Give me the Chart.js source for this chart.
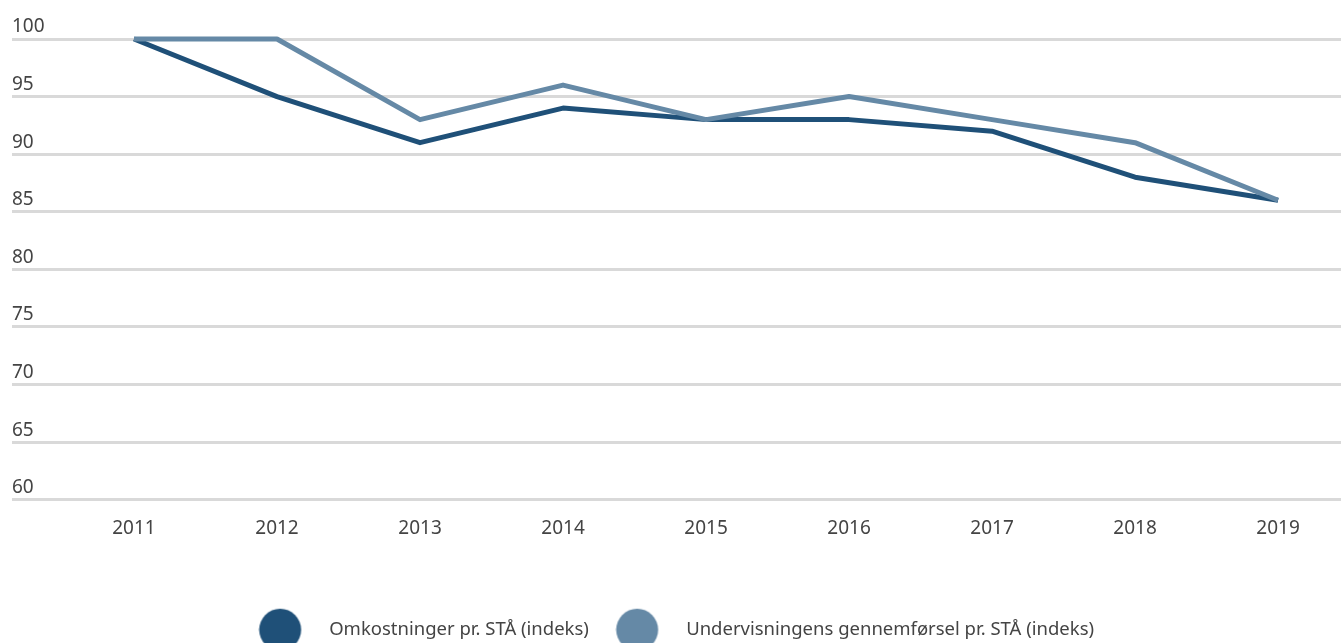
<!DOCTYPE html>
<html>
<head>
<meta charset="utf-8">
<script src="https://cdn.jsdelivr.net/npm/chart.js@4"></script>
<style>
    html, body { margin: 0; padding: 0; background: #fff; overflow: hidden; }
    #wrap { width: 1341px; height: 649px; position: relative; }
</style>
</head>
<body>
<div id="wrap"><canvas id="udvikling"></canvas></div>
<script>
const years = [2011, 2012, 2013, 2014, 2015, 2016, 2017, 2018, 2019];
const omkostninger = [100, 95, 91, 94, 93, 93, 92, 88, 86];
const gennemfoersel = [100, 100, 93, 96, 93, 95, 93, 91, 86];
const seriesNames = ['Omkostninger pr. STÅ (indeks)', 'Undervisningens gennemførsel pr. STÅ (indeks)'];
const seriesColors = ['#1f5078', '#6589a6'];
const yTicks = [60, 65, 70, 75, 80, 85, 90, 95, 100];

// big round markers for the legend, sitting at the left of the box
function dot(color) {
    const c = document.createElement('canvas');
    c.width = 62;
    c.height = 44;
    const ctx = c.getContext('2d');
    ctx.fillStyle = color;
    ctx.beginPath();
    ctx.arc(21.75, 22, 21, 0, Math.PI * 2);
    ctx.fill();
    return c;
}
const dots = seriesColors.map(dot);

(function() {
    const data = {
        datasets: [{
            label: seriesNames[0],
            data: years.map((y, i) => ({x: y, y: omkostninger[i]})),
            borderColor: seriesColors[0],
            backgroundColor: seriesColors[0],
            order: 1,
        }, {
            label: seriesNames[1],
            data: years.map((y, i) => ({x: y, y: gennemfoersel[i]})),
            borderColor: seriesColors[1],
            backgroundColor: seriesColors[1],
            order: 0,
        }]
    };

    new Chart(document.getElementById('udvikling'), {
        type: 'line',
        data: data,
        options: {
            responsive: true,
            maintainAspectRatio: false,
            animation: false,
            layout: { padding: { top: 39, left: 12, right: 0, bottom: 0 } },
            elements: {
                line: { borderWidth: 5, tension: 0, borderCapStyle: 'butt', borderJoinStyle: 'round' },
                point: { radius: 0, hoverRadius: 0 }
            },
            datasets: { line: { clip: false } },
            scales: {
                x: {
                    type: 'linear',
                    min: 2010.147,
                    max: 2019.44,
                    grid: { display: false, drawTicks: false },
                    border: { display: false },
                    afterFit: (scale) => { scale.height += 37; },
                    ticks: {
                        stepSize: 1,
                        includeBounds: false,
                        padding: 17,
                        color: '#444',
                        font: { family: 'Noto Sans', size: 19 },
                        callback: (v) => String(v)
                    }
                },
                y: {
                    min: 60,
                    max: 100,
                    afterBuildTicks: (scale) => { scale.ticks = yTicks.map(v => ({value: v})); },
                    grid: { color: '#d9d9d9', lineWidth: 3, drawTicks: false },
                    border: { display: false },
                    ticks: {
                        mirror: true,
                        padding: 0,
                        labelOffset: -12,
                        color: '#444',
                        font: { family: 'Noto Sans', size: 19 }
                    }
                }
            },
            plugins: {
                tooltip: { enabled: false },
                legend: {
                    position: 'bottom',
                    labels: {
                        usePointStyle: true,
                        pointStyleWidth: 61,
                        boxHeight: 18,
                        padding: 27,
                        color: '#444',
                        font: { family: 'Noto Sans', size: 18.5 },
                        sort: (a, b) => a.datasetIndex - b.datasetIndex,
                        generateLabels: (chart) => {
                            const items = Chart.defaults.plugins.legend.labels.generateLabels(chart);
                            items.forEach(it => { it.pointStyle = dots[it.datasetIndex]; });
                            return items;
                        }
                    }
                }
            }
        }
    });
})();
</script>
</body>
</html>
